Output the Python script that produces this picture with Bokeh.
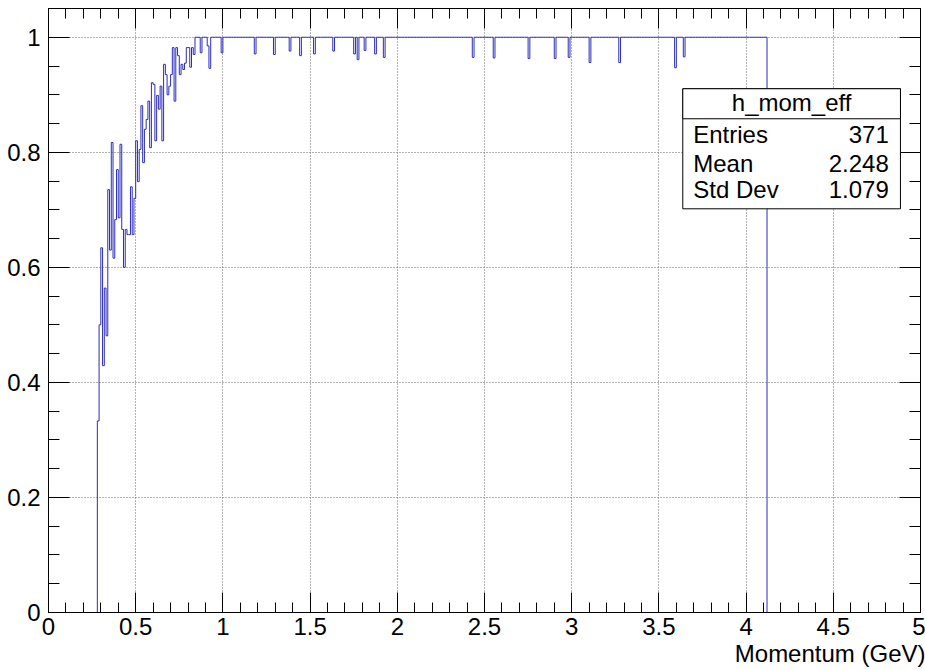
import numpy as np
from bokeh.plotting import figure
from bokeh.models import (Range1d, SingleIntervalTicker, LinearAxis, BoxAnnotation,
                          Label, Title, CustomJSTickFormatter)
from bokeh.embed import file_html
from bokeh.resources import INLINE

# ---------------- data ----------------
bin_width = 0.01
first_edge = 0.28
n_bins = 384          # 0.28 .. 4.12 GeV
plateau_value = 1.0

# efficiency of bins 0.28, 0.29, ... 0.99 GeV
rise_values = [
    0.333, 0.500, 0.634, 0.429, 0.564, 0.481, 0.735, 0.630, 0.817, 0.616,
    0.683, 0.770, 0.686, 0.814, 0.666, 0.600, 0.666, 0.657, 0.657, 0.740,
    0.657, 0.720, 0.820, 0.749, 0.805, 0.881, 0.782, 0.840, 0.857, 0.889,
    0.808, 0.921, 0.918, 0.820, 0.899, 0.875, 0.915, 0.820, 0.953, 0.935,
    0.900, 0.915, 0.935, 0.982, 0.889, 0.982, 0.968, 0.935, 0.953, 0.944,
    0.955, 0.982, 0.982, 0.948, 0.982, 0.970, 1.000, 1.000, 1.000, 0.973,
    1.000, 1.000, 1.000, 0.985, 0.946, 1.000, 1.000, 1.000, 1.000, 1.000,
    1.000, 0.973,
]

# isolated dips on the plateau (bin low edge, value)
dip_momenta = [1.18, 1.29, 1.38, 1.44, 1.52, 1.63, 1.75, 1.77, 1.81, 1.87,
               1.92, 2.43, 2.55, 2.75, 2.90, 2.98, 3.10, 3.27, 3.59, 3.64]
dip_values = [0.971, 0.970, 0.976, 0.968, 0.971, 0.976, 0.971, 0.961, 0.977, 0.971,
              0.965, 0.965, 0.964, 0.963, 0.963, 0.965, 0.956, 0.956, 0.947, 0.966]

stats_title = "h_mom_eff"
stats_names = ["Entries", "Mean", "Std Dev"]
stats_values = ["371", "2.248", "1.079"]
x_title = "Momentum (GeV)"

# ---------------- build histogram outline ----------------
values = np.full(n_bins, plateau_value)
values[:len(rise_values)] = rise_values
for m, v in zip(dip_momenta, dip_values):
    values[int(round((m - first_edge) / bin_width))] = v
edges = first_edge + bin_width * np.arange(n_bins + 1)
xs = np.repeat(edges, 2)
ys = np.concatenate([[0.0], np.repeat(values, 2), [0.0]])

FONT = "Liberation Sans"
LINE = "#2c2cbc"

p = figure(width=925, height=670,
           x_range=Range1d(0, 5), y_range=Range1d(0, 1.05),
           output_backend="svg", toolbar_location=None,
           min_border_left=48, min_border_right=5,
           min_border_top=8, min_border_bottom=58,
           background_fill_color="white", border_fill_color="white")
p.outline_line_color = "black"
p.outline_line_width = 1

xt = SingleIntervalTicker(interval=0.5, num_minor_ticks=5)
yt = SingleIntervalTicker(interval=0.2, num_minor_ticks=4)

for ax in p.xaxis:
    ax.ticker = xt
for ax in p.yaxis:
    ax.ticker = yt


def style_axis(ax, tin, tmin):
    ax.axis_line_color = "black"
    ax.major_tick_line_color = "black"
    ax.minor_tick_line_color = "black"
    ax.major_tick_in = tin
    ax.major_tick_out = 0
    ax.minor_tick_in = tmin
    ax.minor_tick_out = 0
    ax.major_label_text_font = FONT
    ax.major_label_text_font_size = "24px"
    ax.major_label_text_color = "black"


style_axis(p.xaxis[0], 20, 10)
style_axis(p.yaxis[0], 21, 11)
p.xaxis[0].major_label_standoff = 5
p.yaxis[0].major_label_standoff = 8

empty = CustomJSTickFormatter(code="return ''")
top_ax = LinearAxis(ticker=xt, formatter=empty)
right_ax = LinearAxis(ticker=yt, formatter=empty)
for ax, tin, tmin in ((top_ax, 20, 10), (right_ax, 21, 11)):
    style_axis(ax, tin, tmin)
    ax.major_label_text_font_size = "1px"
    ax.major_label_standoff = 0
p.add_layout(top_ax, "above")
p.add_layout(right_ax, "right")

p.xgrid.ticker = xt
p.ygrid.ticker = yt
for g in (p.xgrid[0], p.ygrid[0]):
    g.grid_line_color = "#666666"
    g.grid_line_dash = "1 2"
    g.grid_line_width = 1

p.line(xs, ys, line_color=LINE, line_width=1)

# stats box
bx_l, bx_r, bx_t, bx_b, bx_sep = 3.637, 4.885, 0.9105, 0.7018, 0.8583
p.add_layout(BoxAnnotation(left=bx_l, right=bx_r, top=bx_t, bottom=bx_b,
                           fill_color="white", fill_alpha=1.0,
                           line_color="black", line_width=1, line_alpha=1.0))
p.add_layout(BoxAnnotation(left=bx_l, right=bx_r, top=bx_t, bottom=bx_sep,
                           fill_color="white", fill_alpha=1.0,
                           line_color="black", line_width=1, line_alpha=1.0))
p.add_layout(Label(x=(bx_l + bx_r) / 2, y=0.886, text=stats_title,
                   text_font=FONT, text_font_size="24px", text_align="center",
                   text_baseline="alphabetic", text_color="black"))
rows_y = [0.831, 0.781, 0.735]
for name, val, yy in zip(stats_names, stats_values, rows_y):
    p.add_layout(Label(x=3.697, y=yy, text=name, text_font=FONT,
                       text_font_size="24px", text_align="left",
                       text_baseline="alphabetic", text_color="black"))
    p.add_layout(Label(x=4.818, y=yy, text=val, text_font=FONT,
                       text_font_size="24px", text_align="right",
                       text_baseline="alphabetic", text_color="black"))

p.add_layout(Title(text=x_title, align="right", text_font=FONT,
                   text_font_size="24px", text_font_style="normal",
                   text_color="black", standoff=0, offset=-5), "below")

open("out.html", "w").write(file_html(p, INLINE))
